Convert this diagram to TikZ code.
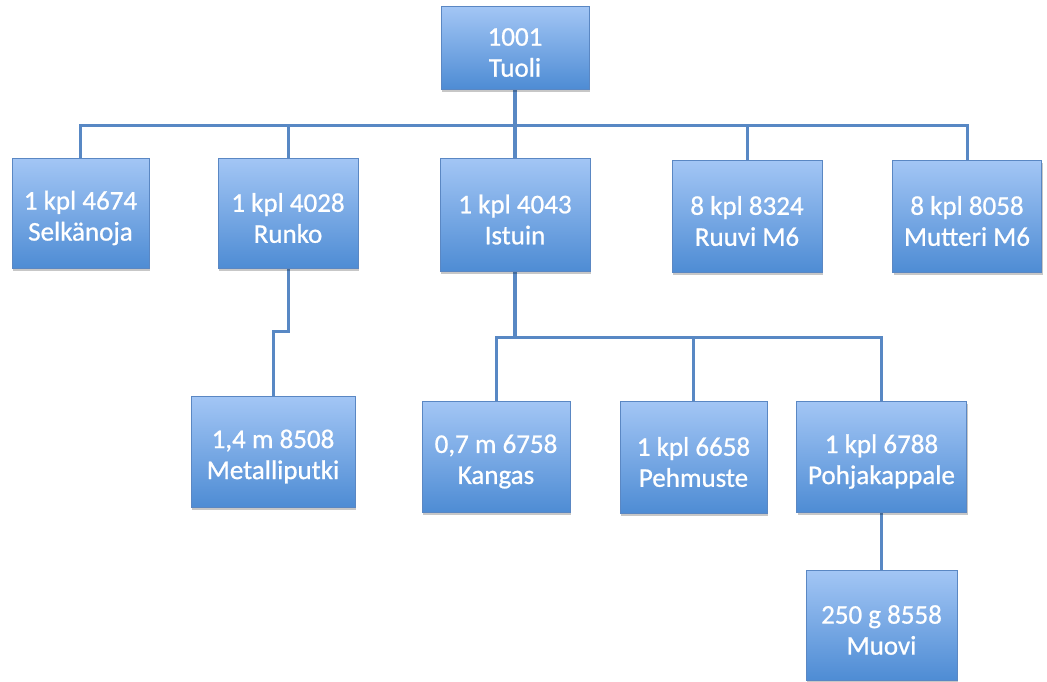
\documentclass[tikz,border=0pt]{standalone}
\usepackage{fontspec}
\setmainfont{Carlito}
\newfontfamily\boxfont{Carlito}[FakeBold=0.8]
\usetikzlibrary{shadows,backgrounds}
\definecolor{boxtop}{RGB}{163,198,245}
\definecolor{boxbot}{RGB}{78,140,212}
\definecolor{boxline}{RGB}{90,135,195}
\definecolor{conn}{RGB}{88,136,196}
\tikzset{
  part/.style={draw=boxline, line width=0.8pt, top color=boxtop, bottom color=boxbot,
    inner sep=0pt,
    drop shadow={shadow xshift=1.2pt, shadow yshift=-2.5pt, fill=black, opacity=0.22}},
  lbl/.style={text=white, align=center, font=\boxfont\fontsize{27}{31}\selectfont,
    inner sep=0pt, yshift=-5pt},
  wire/.style={draw=conn, line width=3pt},
  thickwire/.style={draw=conn, line width=4.5pt}
}
\begin{document}
\begin{tikzpicture}[x=1pt,y=-1pt]
\useasboundingbox (0,0) rectangle (1047,681);
\node[part, minimum width=148pt, minimum height=83pt, label={[lbl]center:1001\\Tuoli}] (tuoli) at (515,47.5) {};
\node[part, minimum width=137pt, minimum height=110pt, label={[lbl]center:1 kpl 4674\\Selkänoja}] (selk) at (80.5,213) {};
\node[part, minimum width=140pt, minimum height=110pt, label={[lbl]center:1 kpl 4028\\Runko}] (runko) at (288,213) {};
\node[part, minimum width=150pt, minimum height=113pt, label={[lbl]center:1 kpl 4043\\Istuin}] (istuin) at (515,214.5) {};
\node[part, minimum width=150pt, minimum height=112pt, label={[lbl]center:8 kpl 8324\\Ruuvi M6}] (ruuvi) at (747,216) {};
\node[part, minimum width=149pt, minimum height=112pt, label={[lbl]center:8 kpl 8058\\Mutteri M6}] (mutt) at (967,216) {};
\node[part, minimum width=164pt, minimum height=111pt, label={[lbl]center:1,4 m 8508\\Metalliputki}] (metal) at (273,451.5) {};
\node[part, minimum width=148pt, minimum height=111pt, label={[lbl]center:0,7 m 6758\\Kangas}] (kangas) at (496,456.5) {};
\node[part, minimum width=147pt, minimum height=112pt, label={[lbl]center:1 kpl 6658\\Pehmuste}] (pehm) at (693.5,457) {};
\node[part, minimum width=170pt, minimum height=111pt, label={[lbl]center:1 kpl 6788\\Pohjakappale}] (pohja) at (881.5,456.5) {};
\node[part, minimum width=151pt, minimum height=110pt, label={[lbl]center:250 g 8558\\Muovi}] (muovi) at (881.5,625) {};
\coordinate (busL) at (80.5,125);
\coordinate (busR) at (967,125);
\coordinate (jog) at (288,331);
\coordinate (bus2L) at (496,337);
\coordinate (bus2R) at (881.5,337);
\begin{scope}[on background layer]
\draw[wire] (selk.north) -- (busL) -- (busR) -- (mutt.north);
\draw[wire] (runko.north) -- (runko.north |- busL);
\draw[wire] (ruuvi.north) -- (ruuvi.north |- busL);
\draw[thickwire] (tuoli.south) -- (istuin.north);
\draw[wire] (runko.south) -- (jog) -| (metal.north);
\draw[thickwire] (istuin.south) -- (istuin.south |- bus2L);
\draw[wire] (kangas.north) -- (bus2L) -- (bus2R) -- (pohja.north);
\draw[wire] (pehm.north) -- (pehm.north |- bus2L);
\draw[wire] (pohja.south) -- (muovi.north);
\end{scope}
\end{tikzpicture}
\end{document}
